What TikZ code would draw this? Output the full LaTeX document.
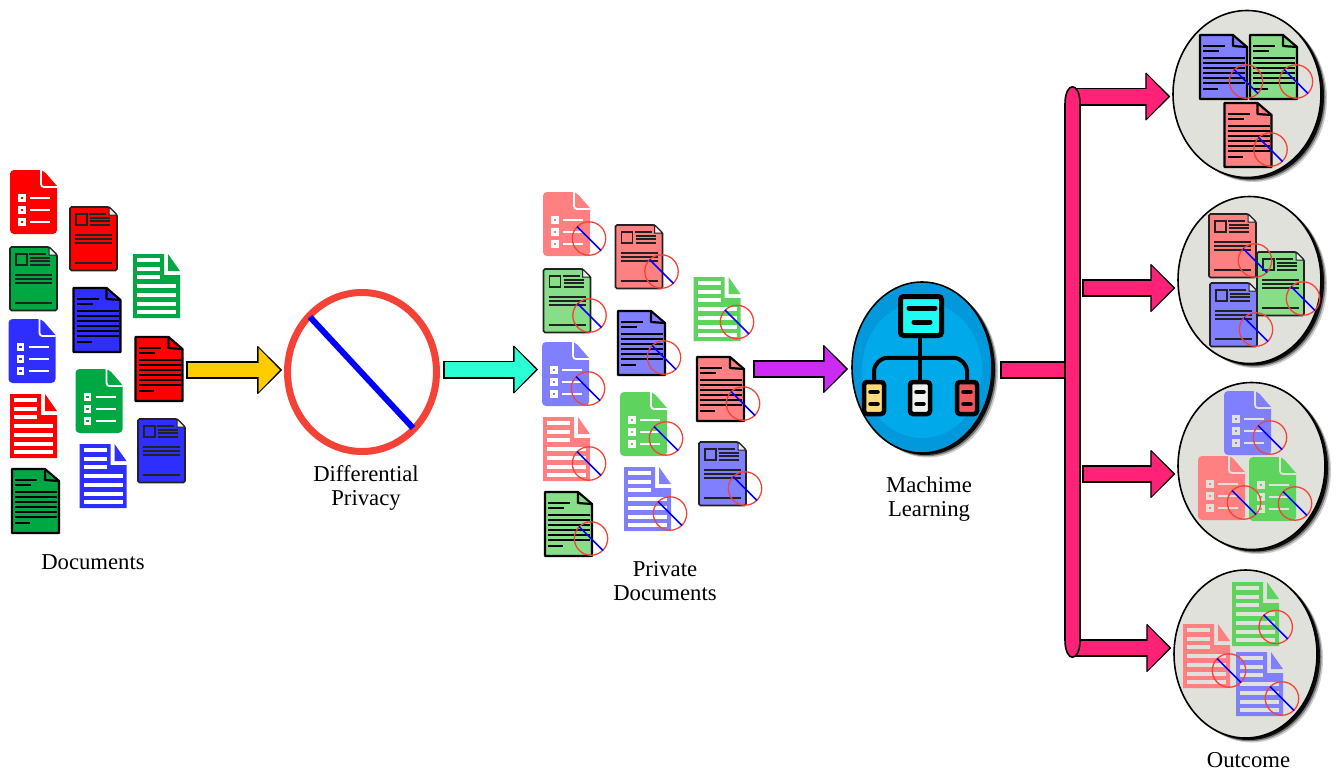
\documentclass[tikz,border=0pt]{standalone}
\usepackage{fontspec}
\usepackage{xcolor}
\usepackage{tikz}
\usetikzlibrary{positioning, arrows.meta, shapes.geometric, shadows}
\setmainfont{Liberation Serif}

\definecolor{docred}{HTML}{FF0000}
\definecolor{docgreen}{HTML}{00A844}
\definecolor{docblue}{HTML}{2E2EFF}
\definecolor{softred}{HTML}{FF8080}
\definecolor{softgreen}{HTML}{88DD88}
\definecolor{softlime}{HTML}{5ED35E}
\definecolor{softblue}{HTML}{8080FF}
\definecolor{inkdark}{HTML}{222222}
\definecolor{markred}{HTML}{F44336}
\definecolor{arrowgold}{HTML}{FFCC00}
\definecolor{arrowteal}{HTML}{2BFFD5}
\definecolor{arrowviolet}{HTML}{CC2BF2}
\definecolor{arrowpink}{HTML}{FF2277}
\definecolor{bubblegray}{HTML}{E0E1DA}
\definecolor{mlring}{HTML}{0299DC}
\definecolor{mlcore}{HTML}{00A9E9}
\definecolor{mlcyan}{HTML}{1EFBF5}
\definecolor{mlyellow}{HTML}{FFD97A}
\definecolor{mlwhite}{HTML}{EEF2F0}
\definecolor{mlred}{HTML}{F5555D}
\colorlet{docgap}{white}

\tikzset{
    pics/checkdoc/.style={code={
        \fill[#1, rounded corners=4pt] (0,0) -- (33,0) [sharp corners] -- (47,16) [rounded corners=4pt] -- (47,64) -- (0,64) -- cycle;
        \draw[docgap, line width=1.8pt, rounded corners=3pt] (31,0) -- (31,17) -- (47,17);
        \foreach \ypos in {28,40,52} {
            \fill[docgap] (8,\ypos-3.8) rectangle (15.6,\ypos+3.8);
            \fill[#1] (10.5,\ypos-1.3) rectangle (13.1,\ypos+1.3);
            \draw[docgap, line width=1.7pt] (20,\ypos) -- (40,\ypos);
        }
    }},
    pics/stripedoc/.style={code={
        \fill[#1] (0,0) -- (31,0) -- (31,21) -- (47,21) -- (47,64) -- (0,64) -- cycle;
        \fill[#1] (35,0) -- (47,17) -- (35,17) -- cycle;
        \foreach \ypos in {6,14.7,23.3} {
            \fill[docgap] (4,\ypos-2) rectangle (27,\ypos+2);
        }
        \foreach \ypos in {32,41,49.7,58} {
            \fill[docgap] (4,\ypos-2) rectangle (43,\ypos+2);
        }
    }},
    pics/photodoc/.style={code={
        \draw[inkdark, fill=#1, line width=1.7pt, rounded corners=1.5pt] (0,0) -- (39,0) -- (47,8) -- (47,63.5) -- (0,63.5) -- cycle;
        \draw[inkdark, fill=white!85!gray, line width=1pt] (39,0) -- (39,8) -- (47,8) -- cycle;
        \draw[inkdark, line width=1.7pt] (6,7) rectangle (17,18);
        \draw[inkdark, line width=1.7pt] (19,7) -- (36,7);
        \foreach \ypos in {10.7,14.3,18} {
            \draw[inkdark, line width=1.7pt] (20,\ypos) -- (40,\ypos);
        }
        \foreach \ypos in {28,32,36,56} {
            \draw[inkdark, line width=1.7pt] (5,\ypos) -- (42,\ypos);
        }
    }},
    pics/textdoc/.style={code={
        \draw[black, fill=#1, line width=2.2pt, line join=round] (0,0) -- (33,0) -- (47,12) -- (47,64) -- (0,64) -- cycle;
        \draw[black, line width=2.2pt, line join=round] (33,0) -- (33,11) -- (47,12);
        \draw[black, line width=1.9pt] (3,11) -- (25,11);
        \draw[black, line width=1.9pt] (3,16.3) -- (19,16.3);
        \foreach \ypos in {23,28,33,38,43,48} {
            \draw[black, line width=1.9pt] (3,\ypos) -- (45,\ypos);
        }
        \draw[black, line width=1.9pt] (3,53.7) -- (18,53.7);
    }},
    pics/nomark/.style={code={
        \draw[markred, line width=1.3pt] (0,0) circle (16.7pt);
        \draw[blue, line width=1.5pt] (-12,-12) -- (12,12);
    }},
    fatarrow/.style={
        draw=black, line width=18pt, shorten >=2pt,
        -{Triangle[length=25pt, width=49pt, round, line width=1pt]},
        postaction={draw=#1, line width=14.5pt, shorten <=1.7pt, shorten >=4.1pt,
            -{Triangle[length=21.4pt, width=42.8pt]}},
    },
    fatstem/.style={
        draw=black, line width=18pt,
        postaction={draw=#1, line width=14.5pt, shorten <=1.7pt, shorten >=1.7pt},
    },
    busbar/.style={draw=black, line width=1.6pt, fill=arrowpink},
    softshadow/.style={
        drop shadow={fill=black, shadow xshift=6pt, shadow yshift=-4.5pt, opacity=.2},
        drop shadow={fill=black, shadow xshift=4.5pt, shadow yshift=-3.2pt, opacity=.4},
        drop shadow={fill=black, shadow xshift=3pt, shadow yshift=-2pt, opacity=.9},
    },
    bubble/.style={
        ellipse, draw=black, line width=1.6pt, fill=bubblegray, inner sep=0pt, softshadow,
    },
    mlbox/.style={draw=black, line width=4.5pt, rounded corners=3pt, inner sep=0pt},
    mlwire/.style={draw=black, line width=4pt},
    mlpill/.style={draw=black, line width=4.5pt, line cap=round},
    caption/.style={align=center, inner sep=0pt, font=\fontsize{22.7}{24}\selectfont},
}

\newcommand{\privdoc}[4]{
    \pic at (#3,#4) {#1=#2};
    \pic at (#3+46,#4+46.5) {nomark};
}

\begin{document}
\begin{tikzpicture}[x=1pt, y=-1pt]
    \useasboundingbox (0,0) rectangle (1340,772);

    % Documents
    \pic at (10,170) {checkdoc=docred};
    \pic at (10,247) {photodoc=docgreen};
    \pic at (8.5,319) {checkdoc=docblue};
    \pic at (10,394) {stripedoc=docred};
    \pic at (12,469) {textdoc=docgreen};
    \pic at (70,207) {photodoc=docred};
    \pic at (73.5,288) {textdoc=docblue};
    \pic at (75.5,369) {checkdoc=docgreen};
    \pic at (79.5,444) {stripedoc=docblue};
    \pic at (133,254) {stripedoc=docgreen};
    \pic at (135.5,337) {textdoc=docred};
    \pic at (138,419) {photodoc=docblue};
    \node[caption] (docslabel) at (93,562) {Documents};

    % Differential privacy sign
    \node[ellipse, draw=markred, line width=7pt, minimum width=149pt, minimum height=159pt, inner sep=0pt, outer sep=3.5pt] (dpsign) at (362,372) {};
    \draw[blue, line width=6pt] (310,317) -- (413,428);
    \node[caption, below=10.5pt of dpsign, xshift=4pt] (dplabel) {Differential\\Privacy};

    % Private documents
    \privdoc{checkdoc}{softred}{543}{192}
    \privdoc{photodoc}{softgreen}{543.5}{269}
    \privdoc{checkdoc}{softblue}{542}{342}
    \privdoc{stripedoc}{softred}{543}{417}
    \privdoc{textdoc}{softgreen}{545}{492}
    \privdoc{photodoc}{softred}{615.5}{225}
    \privdoc{textdoc}{softblue}{618}{311}
    \privdoc{checkdoc}{softlime}{620}{392}
    \privdoc{stripedoc}{softblue}{624}{467}
    \pic at (693.5,277) {stripedoc=softlime};
    \pic at (737,322) {nomark};
    \privdoc{textdoc}{softred}{697}{357}
    \privdoc{photodoc}{softblue}{699}{442}
    \node[caption] (privlabel) at (665,581) {Private\\Documents};

    % Machine learning
    \node[bubble, fill=mlring, minimum width=140pt, minimum height=171pt, outer sep=2pt] (ml) at (922,367.5) {};
    \node[ellipse, fill=mlcore, minimum width=120pt, minimum height=136pt, inner sep=0pt] (mlinner) at (922,370) {};
    \node[mlbox, line width=5pt, fill=mlcyan, minimum width=41pt, minimum height=39pt] (mlroot) at (921,316) {};
    \node[mlbox, fill=mlyellow, minimum width=20pt, minimum height=32pt] (mlleft) at (874,398) {};
    \node[mlbox, fill=mlwhite, minimum width=20pt, minimum height=32pt] (mlmid) at (920,398) {};
    \node[mlbox, fill=mlred, minimum width=20pt, minimum height=32pt] (mlright) at (967,398) {};
    \draw[mlwire] (mlroot.south -| mlmid) -- (mlmid.north);
    \draw[mlwire, rounded corners=14pt] (mlleft.north) -- ++(0,-22) -| (mlright.north);
    \draw[mlpill, line width=5pt] (909,308) -- (935,308);
    \draw[mlpill, line width=5pt] (914,322) -- (930,322);
    \draw[mlpill] (870.5,392) -- (877.5,392);
    \draw[mlpill] (870.5,404) -- (877.5,404);
    \draw[mlpill] (916.5,392) -- (923.5,392);
    \draw[mlpill] (916.5,404) -- (923.5,404);
    \draw[mlpill] (963.5,392) -- (970.5,392);
    \draw[mlpill] (963.5,404) -- (970.5,404);
    \node[caption, below=21.5pt of ml, xshift=7pt] (mllabel) {Machime\\Learning};

    % Outcome bubbles
    \node[bubble, minimum width=148pt, minimum height=167pt] (out1) at (1247,94) {};
    \node[bubble, minimum width=143pt, minimum height=167pt] (out2) at (1249.5,280) {};
    \node[bubble, minimum width=147pt, minimum height=167pt] (out3) at (1251.5,466) {};
    \node[bubble, minimum width=143pt, minimum height=168pt] (out4) at (1245.5,654) {};
    \node[caption, below=13pt of out4, xshift=3pt] (outlabel) {Outcome};

    \begin{scope}
        \colorlet{docgap}{bubblegray}
        \privdoc{textdoc}{softgreen}{1250}{35}
        \privdoc{textdoc}{softblue}{1200}{35}
        \privdoc{textdoc}{softred}{1224.5}{103}
        \privdoc{photodoc}{softgreen}{1257}{252}
        \privdoc{photodoc}{softred}{1209}{214}
        \privdoc{photodoc}{softblue}{1210}{283}
        \privdoc{checkdoc}{softblue}{1224}{391}
        \privdoc{checkdoc}{softlime}{1249}{457}
        \privdoc{checkdoc}{softred}{1198}{456}
        \pic at (1232,582) {stripedoc=softlime};
        \pic at (1275.7,627) {nomark};
        \privdoc{stripedoc}{softblue}{1236}{652}
        \privdoc{stripedoc}{softred}{1183}{624}
    \end{scope}

    % Connections
    \coordinate (docsout) at (186,370);
    \coordinate (dpout) at (443,369.5);
    \coordinate (privin) at (540,369.5);
    \coordinate (privout) at (753,369);
    \coordinate (stemout) at (1000,370);
    \coordinate (busin) at (1066,370);
    \coordinate (tap1) at (1074,96.5);
    \coordinate (tap2) at (1082,288);
    \coordinate (tap3) at (1082,474);
    \coordinate (tap4) at (1074,648);

    \draw[fatarrow=arrowgold] (docsout) -- (docsout -| dpsign.west);
    \draw[fatarrow=arrowteal] (dpout) -- (privin);
    \draw[fatarrow=arrowviolet] (privout) -- (privout -| ml.west);
    \draw[fatstem=arrowpink] (stemout) -- (busin);
    \draw[fatarrow=arrowpink] (tap1) -- (tap1 -| out1.west);
    \draw[fatarrow=arrowpink] (tap2) -- (tap2 -| out2.west);
    \draw[fatarrow=arrowpink] (tap3) -- (tap3 -| out3.west);
    \draw[fatarrow=arrowpink] (tap4) -- (tap4 -| out4.west);

    % Bus
    \draw[busbar] (1065,104) .. controls (1065,81) and (1080,81) .. (1080,104) -- (1080,640) .. controls (1080,663) and (1065,663) .. (1065,640) -- cycle;
\end{tikzpicture}
\end{document}
